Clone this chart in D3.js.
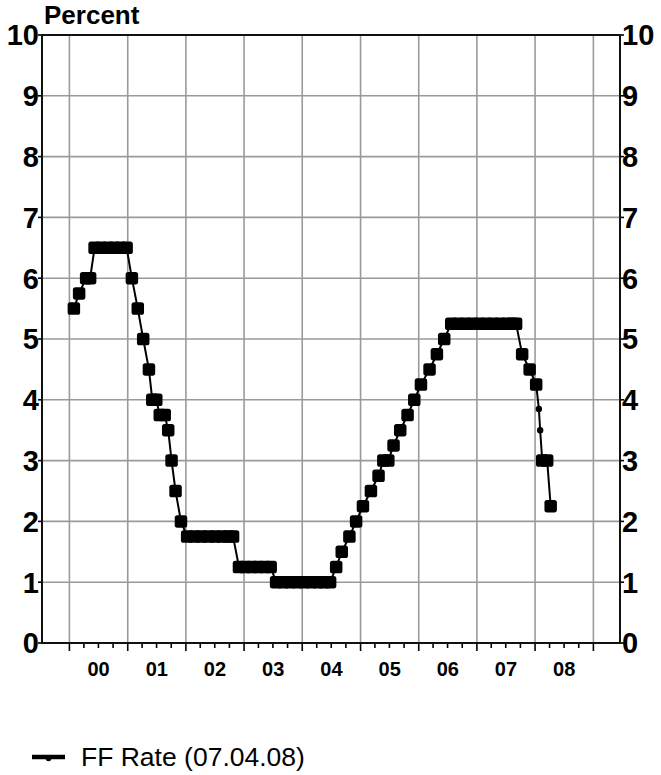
<!DOCTYPE html>
<html>
<head>
<meta charset="utf-8">
<script src="https://cdn.jsdelivr.net/npm/d3@7"></script>
<style>
  html, body { margin: 0; padding: 0; background: #fff; }
  svg { display: block; }
  text { font-family: "Liberation Sans", Arial, sans-serif; fill: #000; }
</style>
</head>
<body>
<svg id="chart" width="661" height="775"></svg>
<script>
// ---- Data ----
const rateDates = [
  "2000-01-29","2000-03-02","2000-04-15","2000-05-10","2000-06-07","2000-07-18","2000-08-28","2000-10-07","2000-11-17","2000-12-25",
  "2001-01-27","2001-03-05","2001-04-08","2001-05-14","2001-06-04","2001-06-29","2001-07-21","2001-08-21","2001-09-12","2001-10-03","2001-10-28","2001-12-01",
  "2002-01-09","2002-02-22","2002-04-07","2002-05-21","2002-07-04","2002-08-17","2002-09-24","2002-10-24","2002-11-30",
  "2003-01-08","2003-02-18","2003-03-30","2003-05-10","2003-06-17","2003-07-21","2003-09-03","2003-10-17","2003-11-30",
  "2004-01-13","2004-02-26","2004-04-10","2004-05-17","2004-06-24","2004-08-01","2004-09-05","2004-10-23","2004-12-04",
  "2005-01-16","2005-03-07","2005-04-24","2005-05-24","2005-06-24","2005-07-27","2005-09-07","2005-10-23","2005-12-04",
  "2006-01-15","2006-03-10","2006-04-25","2006-06-10","2006-07-24","2006-09-06","2006-10-20","2006-12-03",
  "2007-01-15","2007-02-28","2007-04-13","2007-05-27","2007-07-10","2007-08-10","2007-09-04","2007-10-12","2007-11-28",
  "2008-01-08","2008-02-15","2008-03-17","2008-04-08"
];
const ffRate = [
  5.5, 5.75, 6.0, 6.0, 6.5, 6.5, 6.5, 6.5, 6.5, 6.5,
  6.0, 5.5, 5.0, 4.5, 4.0, 4.0, 3.75, 3.75, 3.5, 3.0, 2.5, 2.0,
  1.75, 1.75, 1.75, 1.75, 1.75, 1.75, 1.75, 1.75, 1.25,
  1.25, 1.25, 1.25, 1.25, 1.25, 1.0, 1.0, 1.0, 1.0,
  1.0, 1.0, 1.0, 1.0, 1.0, 1.25, 1.5, 1.75, 2.0,
  2.25, 2.5, 2.75, 3.0, 3.0, 3.25, 3.5, 3.75, 4.0,
  4.25, 4.5, 4.75, 5.0, 5.25, 5.25, 5.25, 5.25,
  5.25, 5.25, 5.25, 5.25, 5.25, 5.25, 5.25, 4.75, 4.5,
  4.25, 3.0, 3.0, 2.25
];
// intermediate points in early 2008 (drawn with small markers)
const interDates = ["2008-01-25", "2008-02-02"];
const interRate = [3.85, 3.5];

const yTicks = [0, 1, 2, 3, 4, 5, 6, 7, 8, 9, 10];
const yearLabels = ["00", "01", "02", "03", "04", "05", "06", "07", "08"];
const yearStarts = [2000, 2001, 2002, 2003, 2004, 2005, 2006, 2007, 2008, 2009];
const seriesName = "FF Rate (07.04.08)";
const axisTitle = "Percent";

// ---- Layout ----
const L = 42, R = 620, T = 35, B = 643;
const parse = d3.utcParse("%Y-%m-%d");

const x = d3.scaleUtc()
  .domain([parse("1999-07-13"), parse("2009-06-17")])
  .range([L, R]);
const y = d3.scaleLinear().domain([0, 10]).range([B, T]);

const svg = d3.select("#chart");

// gridlines
const grid = svg.append("g").attr("stroke", "#9a9a9a").attr("stroke-width", 1.6);
grid.selectAll("line.h").data(yTicks.filter(v => v > 0 && v < 10)).join("line")
  .attr("x1", L).attr("x2", R)
  .attr("y1", d => y(d)).attr("y2", d => y(d));
grid.selectAll("line.v").data(yearStarts).join("line")
  .attr("x1", d => x(Date.UTC(d, 0, 1))).attr("x2", d => x(Date.UTC(d, 0, 1)))
  .attr("y1", T).attr("y2", B);

// bottom axis with quarterly minor ticks
const quarters = d3.utcMonth.every(3).range(new Date(Date.UTC(2000, 0, 1)), new Date(Date.UTC(2009, 0, 2)));
const bottom = svg.append("g").attr("stroke", "#000").attr("stroke-width", 1.6);
bottom.selectAll("line").data(quarters).join("line")
  .attr("x1", d => x(d)).attr("x2", d => x(d))
  .attr("y1", B)
  .attr("y2", d => B + (d.getUTCMonth() === 0 ? 8 : 5));

// y ticks both sides
const yt = svg.append("g").attr("stroke", "#000").attr("stroke-width", 1.6);
yt.selectAll("line.l").data(yTicks).join("line").attr("class", "l")
  .attr("x1", L - 4).attr("x2", L).attr("y1", d => y(d)).attr("y2", d => y(d));
yt.selectAll("line.r").data(yTicks).join("line").attr("class", "r")
  .attr("x1", R).attr("x2", R + 4).attr("y1", d => y(d)).attr("y2", d => y(d));

// frame
svg.append("rect").attr("x", L).attr("y", T).attr("width", R - L).attr("height", B - T)
  .attr("fill", "none").attr("stroke", "#111").attr("stroke-width", 2);

// y labels
svg.append("g").selectAll("text").data(yTicks).join("text")
  .attr("x", L - 3).attr("y", d => y(d))
  .attr("dy", "0.36em").attr("text-anchor", "end")
  .attr("font-size", 29).attr("font-weight", "bold")
  .text(d => d);
svg.append("g").selectAll("text").data(yTicks).join("text")
  .attr("x", R + 2).attr("y", d => y(d))
  .attr("dy", "0.36em").attr("text-anchor", "start")
  .attr("font-size", 29).attr("font-weight", "bold")
  .text(d => d);

// x labels (centred in each year)
svg.append("g").selectAll("text").data(yearLabels).join("text")
  .attr("x", (d, i) => (x(Date.UTC(yearStarts[i], 0, 1)) + x(Date.UTC(yearStarts[i] + 1, 0, 1))) / 2)
  .attr("y", 676)
  .attr("text-anchor", "middle")
  .attr("font-size", 20).attr("font-weight", "bold")
  .text(d => d);

// axis title
svg.append("text").attr("x", 44).attr("y", 24)
  .attr("font-size", 26).attr("font-weight", "bold").text(axisTitle);

// series
const pts = rateDates.map((d, i) => ({ date: parse(d), v: ffRate[i] }));
const inter = interDates.map((d, i) => ({ date: parse(d), v: interRate[i] }));
const all = pts.concat(inter).sort((a, b) => a.date - b.date);

const line = d3.line().x(d => x(d.date)).y(d => y(d.v));
svg.append("path").datum(all).attr("d", line)
  .attr("fill", "none").attr("stroke", "#000").attr("stroke-width", 2);

const S = 12.5;
svg.append("g").selectAll("rect").data(pts).join("rect")
  .attr("x", d => x(d.date) - S / 2).attr("y", d => y(d.v) - S / 2)
  .attr("width", S).attr("height", S).attr("rx", 2.6).attr("ry", 2.6)
  .attr("fill", "#000");
svg.append("g").selectAll("circle").data(inter).join("circle")
  .attr("cx", d => x(d.date)).attr("cy", d => y(d.v)).attr("r", 3.2).attr("fill", "#000");

// legend
svg.append("line").attr("x1", 32).attr("x2", 65).attr("y1", 757).attr("y2", 757)
  .attr("stroke", "#000").attr("stroke-width", 4.5);
svg.append("circle").attr("cx", 48.5).attr("cy", 758.5).attr("r", 2.8).attr("fill", "#000");
svg.append("text").attr("x", 81).attr("y", 766)
  .attr("font-size", 26.5).text(seriesName);
</script>
</body>
</html>
